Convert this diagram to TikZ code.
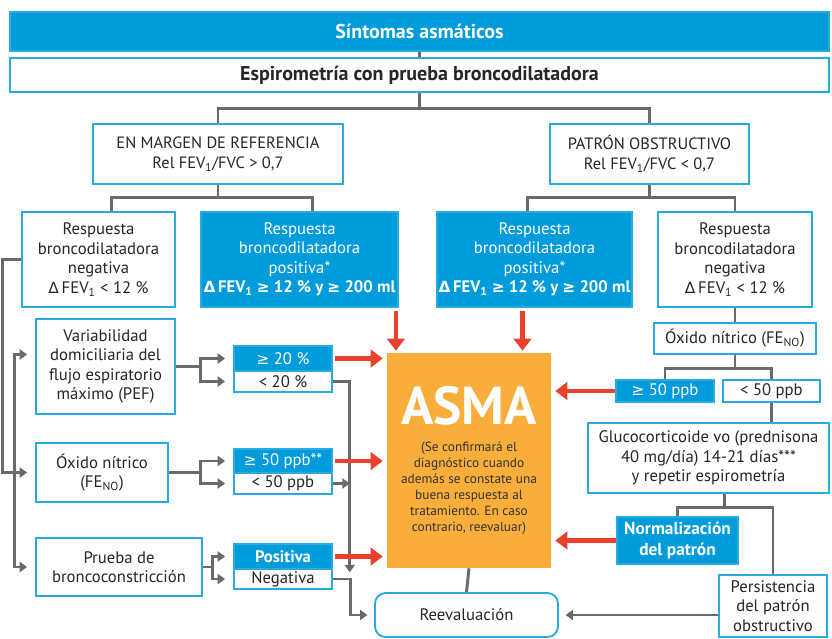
\documentclass[tikz,border=0pt]{standalone}
\usepackage{fontspec}
\setmainfont{PT Sans}
\newfontfamily\symf[Scale=0.92]{DejaVu Sans}
\usetikzlibrary{arrows.meta,calc}
\definecolor{azul}{RGB}{0,155,219}
\definecolor{borde}{RGB}{41,170,225}
\definecolor{naranja}{RGB}{249,174,59}
\definecolor{gris}{RGB}{105,106,110}
\definecolor{rojo}{RGB}{232,65,45}
\newcommand{\mayor}{{\symf ≥}}
\newcommand{\delt}{{\symf Δ}}
\newcommand{\fev}{\delt\,FEV\textsubscript{1}}
\tikzset{
    caja/.style={draw=borde, line width=1.4pt, fill=white, text=black!85, align=center,
        inner sep=1pt, font=\fontsize{12.5}{14.6}\selectfont},
    cajaazul/.style={caja, fill=azul, text=white},
    tam/.style 2 args={minimum width=#1*0.75pt, minimum height=#2*0.75pt},
    gline/.style={draw=gris, line width=2.2pt},
    garr/.style={gline, -{Triangle[width=7.5pt,length=5.5pt]}},
    rarr/.style={draw=rojo, line width=3.6pt, -{Triangle[width=13pt,length=9pt]}}
}

\begin{document}
\begin{tikzpicture}[x=0.75pt,y=-0.75pt]
\useasboundingbox (0,0) rectangle (832,639);

% cabecera
\node[cajaazul, tam={819}{39}, font=\fontsize{15}{17}\selectfont\bfseries] (sint) at (419.5,31.5) {Síntomas asmáticos};
\node[caja, tam={819}{34}, font=\fontsize{15}{17}\selectfont\bfseries] (espiro) at (419.5,75) {Espirometría con prueba broncodilatadora};
\node[caja, tam={250}{60}, font=\fontsize{12.3}{15}\selectfont] (margen) at (218,154) {EN MARGEN DE REFERENCIA\\Rel FEV\textsubscript{1}/FVC > 0,7};
\node[caja, tam={199}{60}, font=\fontsize{12.3}{15}\selectfont] (patron) at (649.5,154) {PATRÓN OBSTRUCTIVO\\Rel FEV\textsubscript{1}/FVC < 0,7};

% respuestas
\node[caja, tam={153}{95}] (negI) at (98.5,259.5) {Respuesta\\broncodilatadora\\negativa\\\fev{} < 12 \%};
\node[cajaazul, tam={197}{95}] (posI) at (299.5,259.5) {Respuesta\\broncodilatadora\\positiva*\\\textbf{\fev{} \mayor{} 12 \% y \mayor{} 200 ml}};
\node[cajaazul, tam={195}{95}] (posD) at (534.5,259.5) {Respuesta\\broncodilatadora\\positiva*\\\textbf{\fev{} \mayor{} 12 \% y \mayor{} 200 ml}};
\node[caja, tam={154}{95}] (negD) at (735,259.5) {Respuesta\\broncodilatadora\\negativa\\\fev{} < 12 \%};

% pruebas de la izquierda
\node[caja, tam={139}{95}] (var) at (105.5,366.5) {Variabilidad\\domiciliaria del\\flujo espiratorio\\máximo (PEF)};
\node[caja, tam={132}{59}] (oxI) at (102,472.5) {Óxido nítrico\\(FE\textsubscript{NO})};
\node[caja, tam={166}{58}] (bronco) at (119,567) {Prueba de\\broncoconstricción};

\node[cajaazul, tam={98}{25}] (v1) at (283,358.5) {\mayor{} 20 \%};
\node[caja, tam={98}{21}] (v2) at (283,381.5) {< 20 \%};
\node[cajaazul, tam={98}{24}] (o1) at (283,461) {\mayor{} 50 ppb**};
\node[caja, tam={98}{21}] (o2) at (283,483.5) {< 50 ppb};
\node[cajaazul, tam={98}{25}] (b1) at (283,556.5) {\textbf{Positiva}};
\node[caja, tam={98}{20}] (b2) at (283,579) {Negativa};

\node[fill=naranja, tam={164}{215}, align=center, inner sep=2pt, text=black!80,
    font=\fontsize{10}{12}\selectfont] (asma) at (469,460.5)
    {{\fontsize{40}{42}\selectfont\bfseries\textcolor{white}{ASMA}}\\[8pt](Se confirmará el\\diagnóstico cuando\\además se constate una\\buena respuesta al\\tratamiento. En caso\\contrario, reevaluar)};
\node[caja, rounded corners=8pt, tam={183}{44}] (reev) at (466.5,615) {Reevaluación};

% lado derecho
\node[caja, tam={162}{31}] (oxD) at (735,338.5) {Óxido nítrico (FE\textsubscript{NO})};
\node[cajaazul, tam={98}{22}] (r1) at (665,391) {\mayor{} 50 ppb};
\node[caja, tam={97}{22}] (r2) at (771.5,391) {< 50 ppb};
\node[caja, tam={241}{70}] (gluco) at (708.5,458) {Glucocorticoide vo (prednisona\\40 mg/día) 14-21 días***\\y repetir espirometría};
\node[cajaazul, tam={121}{47}, font=\fontsize{13}{15.5}\selectfont\bfseries] (norm) at (677.5,540.5) {Normalización\\del patrón};
\node[caja, tam={108}{62}] (pers) at (773,606) {Persistencia\\del patrón\\obstructivo};

% conexiones grises
\draw[gline] (sint.south) -- (espiro.north);
\draw[gline] (espiro.south) -- ++(0,16) coordinate (t1) (margen.north) |- (t1) -| (patron.north);
\draw[gline] (margen.south) -- ++(0,13) coordinate (t2) ([xshift=10pt]negI.north) |- (t2) -| ([xshift=10pt]posI.north);
\draw[gline] (patron.south) -- ++(0,13) coordinate (t3) ([xshift=-5pt]posD.north) |- (t3) -| (negD.north);

\draw[garr, shorten >=6pt] (negI.west) -- ++(-19,0) |- (oxI.west);
\draw[garr, shorten >=6pt] ($(oxI.west)+(-21,0)$) |- ([yshift=9pt]var.west);
\draw[garr, shorten >=6pt] ($(oxI.west)+(-21,0)$) |- (bronco.west);

\draw[garr, shorten >=6pt] (var.east) -- ++(25,0) coordinate (f1) |- (v1.west);
\draw[garr, shorten >=6pt] (f1) |- (v2.west);
\draw[garr, shorten >=6pt] (oxI.east) -- ++(32,0) coordinate (f2) |- (o1.west);
\draw[garr, shorten >=6pt] (f2) |- (o2.west);
\draw[garr, shorten >=6pt] (bronco.east) -- ++(10,0) coordinate (f3) |- (b1.west);
\draw[garr, shorten >=6pt] (f3) |- (b2.west);

\coordinate (vx) at ($(asma.south west)+(-37,4)$);
\draw[garr] (v2.east) -| (vx);
\draw[garr] (o2.east) -- (o2.east -| vx);
\draw[garr, shorten >=5pt] (b2.east) -- ++(18,0) |- (reev.west);
\draw[gline] (asma.south) -- (reev.north);

\draw[gline] (negD.south) -- (oxD.north);
\draw[gline] (oxD.south) -- ++(0,14) coordinate (t4) (r1.north) |- (t4) -| (r2.north);
\draw[gline] (r2.south) -- (r2.south |- gluco.north);
\draw[gline] ([xshift=12pt]gluco.south) -- ++(0,14) coordinate (t5) (norm.north) |- (t5) -| (pers.north);
\draw[garr, shorten >=5pt] (pers.west |- reev.east) -- (reev.east);

% flechas rojas
\draw[rarr] ($(posI.south east)+(-3,3)$) -- ($(posI.south east |- asma.north)+(-3,-2)$);
\draw[rarr] ($(posD.south)+(-12,3)$) -- ($(posD.south |- asma.north)+(-12,-2)$);
\draw[rarr] ($(v1.east)+(2,0)$) -- ($(v1.east -| asma.west)+(-4,0)$);
\draw[rarr] ($(o1.east)+(2,0)$) -- ($(o1.east -| asma.west)+(-4,0)$);
\draw[rarr] ($(b1.east)+(2,0)$) -- ($(b1.east -| asma.west)+(-4,0)$);
\draw[rarr] (r1.west) -- ($(r1.west -| asma.east)+(4,0)$);
\draw[rarr] (norm.west) -- ($(norm.west -| asma.east)+(4,0)$);

\end{tikzpicture}
\end{document}
